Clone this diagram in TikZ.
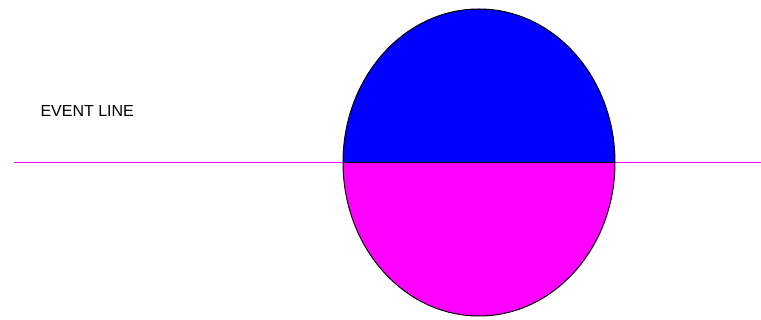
\documentclass[tikz,border=0pt]{standalone}
\usepackage{fontspec}
\setmainfont{Liberation Sans}
\definecolor{pmag}{RGB}{255,0,255}
\definecolor{pblue}{RGB}{0,0,255}
\begin{document}
\begin{tikzpicture}[x=1pt,y=-1pt,line width=1pt,
  eventlabel/.style={font=\fontsize{16}{16}\selectfont,inner sep=0pt,anchor=base west}]
\useasboundingbox[fill=white] (0,0) rectangle (761,320);
% halves of the ellipse
\fill[pblue] (343,162.5) arc[start angle=180,end angle=360,x radius=136,y radius=153.5] -- cycle;
\fill[pmag] (343,162.5) arc[start angle=180,end angle=0,x radius=136,y radius=153.5] -- cycle;
% event line
\coordinate (lstart) at (14,162.5);
\coordinate (lend) at (761,162.5);
\draw[pmag] (lstart) -- (lend);
\draw[black] (343,162.5) -- (615,162.5);
\draw[black] (479,162.5) ellipse[x radius=136,y radius=153.5];
\node[eventlabel] (label) at (40,117) {EVENT LINE};
\end{tikzpicture}
\end{document}
